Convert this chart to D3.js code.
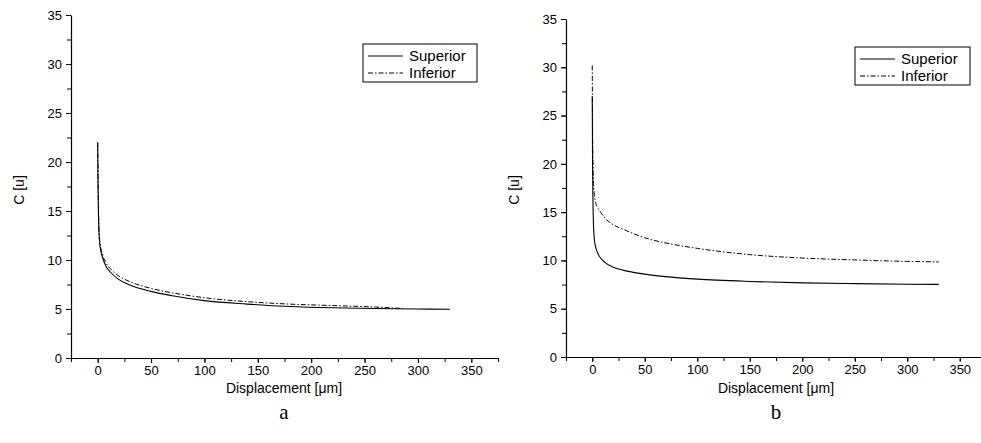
<!DOCTYPE html>
<html>
<head>
<meta charset="utf-8">
<script src="https://cdn.jsdelivr.net/npm/d3@7"></script>
<style>
  body { margin: 0; background: #fff; }
  svg { display: block; font-family: "Liberation Sans", Arial, sans-serif; }
</style>
</head>
<body>
<div id="chart"></div>
<script>
// values
var xTicks = [0, 50, 100, 150, 200, 250, 300, 350];
var yTicks = [0, 5, 10, 15, 20, 25, 30, 35];
var seriesNames = ['Superior', 'Inferior'];

var aSupX = [0, 0.3, 0.7, 1.2, 2, 3, 5, 8, 12, 20, 30, 50, 70, 100, 140, 180, 220, 260, 300, 330];
var aSupY = [22, 18, 15, 12.8, 11.6, 10.9, 10.1, 9.3, 8.75, 8.0, 7.45, 6.8, 6.35, 5.85, 5.5, 5.25, 5.12, 5.05, 5.0, 4.97];
var aInfX = [0, 0.3, 0.7, 1.2, 2, 3, 5, 8, 12, 20, 30, 50, 70, 100, 140, 180, 220, 260, 286];
var aInfY = [22, 18.5, 15.5, 13.2, 11.9, 11.2, 10.4, 9.65, 9.1, 8.35, 7.8, 7.1, 6.65, 6.15, 5.75, 5.5, 5.35, 5.2, 5.05];

var bSupX = [0, 0.3, 0.7, 1.2, 2, 3, 5, 8, 12, 20, 30, 50, 75, 100, 150, 200, 250, 300, 330];
var bSupY = [27, 20, 16, 13.6, 12.2, 11.5, 10.8, 10.25, 9.8, 9.3, 8.97, 8.58, 8.27, 8.06, 7.82, 7.68, 7.6, 7.54, 7.52];
var bInfX = [0, 0.3, 0.7, 1.2, 2, 3, 5, 8, 12, 20, 30, 50, 75, 100, 150, 200, 250, 300, 330];
var bInfY = [30.2, 24, 20, 18, 16.8, 16.1, 15.5, 15.0, 14.4, 13.7, 13.2, 12.35, 11.7, 11.25, 10.6, 10.25, 10.05, 9.9, 9.85];

var WIDTH = 981, HEIGHT = 443;
var DASHDOT = '5,2,1.5,2';

var svg = d3.select('#chart').append('svg')
    .attr('width', WIDTH).attr('height', HEIGHT);

function zip(xs, ys) {
    return xs.map(function(x, i) { return [x, ys[i]]; });
}

/**
 * Draws one panel: axes, two curves, legend and letter.
 */
var drawPanel = function drawPanel(p) {
    var x = d3.scaleLinear().domain([-25, 375]).range([p.left, p.right]);
    var y = d3.scaleLinear().domain([0, 35]).range([p.bottom, p.top]);
    var g = svg.append('g');

    // minor ticks
    var xMinor = d3.range(-25, 376, 25);
    var yMinor = d3.range(0, 35.1, 2.5);

    g.append('g').attr('transform', 'translate(0,' + p.bottom + ')')
        .call(d3.axisBottom(x).tickValues(xMinor).tickSize(4).tickFormat(''))
        .call(function(s) { s.select('.domain').remove(); });
    g.append('g').attr('transform', 'translate(' + p.left + ',0)')
        .call(d3.axisLeft(y).tickValues(yMinor).tickSize(4).tickFormat(''))
        .call(function(s) { s.select('.domain').remove(); });

    g.append('g').attr('transform', 'translate(0,' + p.bottom + ')')
        .call(d3.axisBottom(x).tickValues(xTicks).tickSize(5).tickSizeOuter(0).tickPadding(3));
    g.append('g').attr('transform', 'translate(' + p.left + ',0)')
        .call(d3.axisLeft(y).tickValues(yTicks).tickSize(5).tickSizeOuter(0).tickPadding(4));

    g.selectAll('.domain').attr('stroke', '#000').attr('stroke-width', 1.2);
    g.selectAll('.tick line').attr('stroke', '#000');
    g.selectAll('.tick text').attr('fill', '#000')
        .style('font-size', '13px').style('font-family', '"Liberation Sans", Arial, sans-serif');

    // axis titles
    g.append('text')
        .attr('x', p.xTitleX).attr('y', 393)
        .attr('text-anchor', 'middle')
        .style('font-size', '14px')
        .text('Displacement [\u03bcm]');
    g.append('text')
        .attr('transform', 'translate(' + p.yTitleX + ',190) rotate(-90)')
        .attr('text-anchor', 'middle')
        .style('font-size', '14px')
        .text('C [u]');
    g.append('text')
        .attr('x', p.xTitleX).attr('y', 419)
        .attr('text-anchor', 'middle')
        .style('font-family', '"Liberation Serif", "Times New Roman", serif')
        .style('font-size', '21px')
        .text(p.letter);

    // curves
    var line = d3.line()
        .x(function(d) { return x(d[0]); })
        .y(function(d) { return y(d[1]); })
        .curve(d3.curveMonotoneX);

    g.append('path').datum(zip(p.supX, p.supY))
        .attr('d', line).attr('fill', 'none')
        .attr('stroke', '#000').attr('stroke-width', 1.1);
    g.append('path').datum(zip(p.infX, p.infY))
        .attr('d', line).attr('fill', 'none')
        .attr('stroke', '#000').attr('stroke-width', 1)
        .attr('stroke-dasharray', DASHDOT);

    // legend
    var lg = g.append('g').attr('transform', 'translate(' + p.legX + ',' + p.legY + ')');
    lg.append('rect')
        .attr('width', p.legW).attr('height', 38)
        .attr('fill', '#fff').attr('stroke', '#000').attr('stroke-width', 1);
    seriesNames.forEach(function(name, i) {
        var yy = 12 + i * 17;
        lg.append('line')
            .attr('x1', 5).attr('x2', 40).attr('y1', yy).attr('y2', yy)
            .attr('stroke', '#000').attr('stroke-width', 1)
            .attr('stroke-dasharray', i === 1 ? DASHDOT : null);
        lg.append('text')
            .attr('x', 46).attr('y', yy + 5)
            .style('font-size', '15px')
            .text(name);
    });
};

drawPanel({
    left: 71, right: 498, top: 15, bottom: 358,
    supX: aSupX, supY: aSupY, infX: aInfX, infY: aInfY,
    legX: 363, legY: 44, legW: 114,
    xTitleX: 284, yTitleX: 24, letter: 'a'
});

drawPanel({
    left: 566, right: 986, top: 19, bottom: 357,
    supX: bSupX, supY: bSupY, infX: bInfX, infY: bInfY,
    legX: 855, legY: 47, legW: 115,
    xTitleX: 776, yTitleX: 519, letter: 'b'
});
</script>
</body>
</html>
